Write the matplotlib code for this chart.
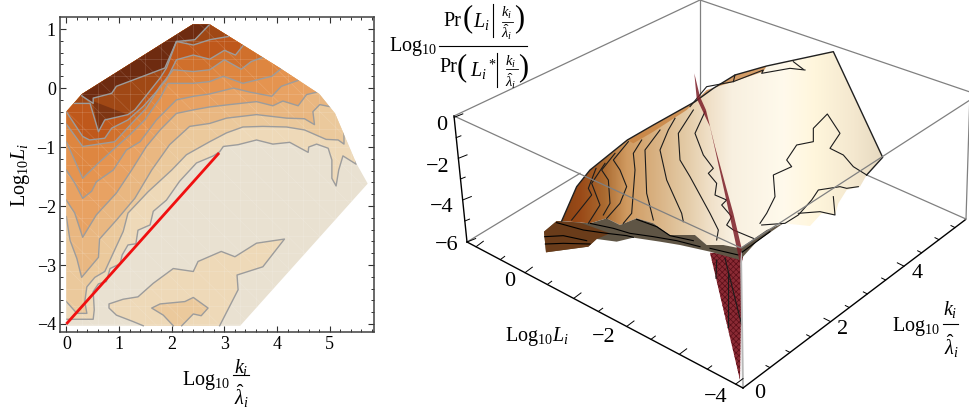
import numpy as np
import matplotlib
matplotlib.use("Agg")
import matplotlib.pyplot as plt
from matplotlib.colors import LinearSegmentedColormap
from matplotlib.patches import Polygon

plt.rcParams["font.family"] = ["Liberation Serif", "DejaVu Serif"]
plt.rcParams["mathtext.fontset"] = "custom"
plt.rcParams["mathtext.rm"] = "Liberation Serif"
plt.rcParams["mathtext.it"] = "Liberation Serif:italic"
plt.rcParams["mathtext.bf"] = "Liberation Serif:bold"
plt.rcParams["hatch.linewidth"] = 0.5

# =========================
# left panel: contour data (log k, log L)
# =========================
hull = [(0, -4.03), (0, -0.4), (0.3, -0.1), (2.4, 1.08), (2.72, 1.08), (3.35, 0.73), (4.05, 0.34),
        (4.8, -0.1), (5.1, -0.43), (5.5, -1.27), (5.72, -1.62), (3.3, -4.03)]

c_base = [(0, -3.92), (0.51, -3.92), (0.53, -3.76), (0.51, -3.45), (0.61, -3.32), (0.76, -3.28), (0.83, -3.06),
          (1.02, -2.98), (1.06, -2.83), (1.17, -2.66), (1.32, -2.64), (1.36, -2.41), (1.59, -2.32), (1.65, -2.09),
          (1.90, -1.90), (2.15, -1.58), (2.47, -1.27), (2.79, -1.15), (2.91, -1.08), (2.98, -0.99), (3.26, -0.96),
          (3.61, -0.88), (3.92, -0.95), (4.24, -0.92), (4.59, -1.09), (4.60, -1.0), (4.75, -0.95), (4.97, -1.02),
          (5.04, -1.22), (5.04, -1.53), (5.12, -1.66), (5.17, -1.39), (5.25, -1.15), (5.50, -1.29), (5.50, -1.16)]
c_a = [(0, -3.62), (0.20, -3.82), (0.39, -3.82), (0.35, -3.62), (0.39, -3.37), (0.54, -3.21), (0.73, -3.11),
       (0.92, -2.74), (1.08, -2.43), (1.17, -2.12), (1.55, -1.76), (2.0, -1.39), (2.28, -1.13), (2.72, -0.91),
       (3.04, -0.76), (3.35, -0.66), (3.73, -0.65), (4.18, -0.66), (4.52, -0.71), (4.93, -0.87), (5.16, -0.88),
       (5.27, -0.95), (5.27, -0.72)]
c_b = [(0, -2.18), (0.07, -2.58), (0.2, -2.89), (0.29, -3.21), (0.61, -2.87), (0.63, -2.56), (0.95, -2.24),
       (1.3, -1.87), (1.62, -1.39), (1.96, -0.96), (2.34, -0.65), (2.72, -0.6), (3.04, -0.51), (3.61, -0.45),
       (4.18, -0.51), (4.52, -0.52), (4.71, -0.62), (4.68, -0.4), (4.81, -0.28), (5.03, -0.32)]
c_c = [(0, -1.9), (0.16, -2.12), (0.31, -2.53), (0.57, -2.15), (0.95, -1.78), (1.24, -1.39), (1.52, -0.99),
       (1.78, -0.71), (2.09, -0.43), (2.41, -0.37), (2.72, -0.32), (3.1, -0.28), (3.61, -0.23), (3.92, -0.3),
       (4.11, -0.22), (4.4, -0.3), (4.56, -0.11), (4.75, -0.07)]
c_d = [(0, -1.39), (0.16, -1.61), (0.31, -1.87), (0.48, -1.75), (0.57, -1.59), (0.89, -1.39), (1.14, -1.05),
       (1.4, -0.91), (1.71, -0.54), (2.09, -0.2), (2.41, -0.14), (2.72, -0.1), (3.17, 0.0), (3.49, -0.07),
       (3.9, -0.14), (4.08, 0.03), (4.4, 0.13)]
c_e = [(0, -0.91), (0.31, -1.53), (0.61, -1.27), (0.92, -1.02), (1.21, -0.79), (1.49, -0.54), (1.78, -0.17),
       (1.93, 0.08), (2.09, 0.08), (2.41, 0.08), (2.72, 0.11), (2.98, 0.2), (3.35, 0.08), (3.9, 0.2), (4.08, 0.33)]
c_f = [(0, -0.61), (0.31, -0.99), (0.61, -0.95), (0.92, -0.91), (1.24, -0.6), (1.52, -0.34), (1.78, 0.03),
       (2.03, 0.31), (2.41, 0.28), (2.72, 0.31), (3.0, 0.48), (3.32, 0.32), (3.51, 0.45), (3.73, 0.52)]
c_g = [(0, -0.4), (0.31, -0.82), (0.44, -0.88), (0.73, -0.85), (0.86, -0.68), (1.17, -0.54), (1.46, -0.31),
       (1.71, -0.06), (1.9, 0.14), (2.09, 0.48), (2.41, 0.56), (2.72, 0.49), (3.0, 0.64), (3.21, 0.56), (3.38, 0.75)]
c_h = [(0.13, -0.26), (0.45, -0.26), (0.61, -0.74), (0.73, -0.54), (1.17, -0.45), (1.3, -0.37), (1.78, 0.17),
       (1.9, 0.34), (2.09, 0.79), (2.41, 0.73), (2.72, 0.82), (3.11, 0.88)]
c_i = [(0.29, -0.13), (0.51, -0.26), (0.51, -0.17), (0.86, -0.09), (0.95, 0.03), (1.87, 0.34), (2.09, 0.79),
       (2.44, 0.82), (2.72, 1.08)]
pocket = [(0.5, -0.22), (0.61, -0.74), (0.73, -0.54), (1.17, -0.45)]
island_1 = [(1.46, -4.03), (1.27, -3.96), (0.95, -3.85), (0.81, -3.73), (0.81, -3.66), (1.08, -3.58), (1.36, -3.54),
            (1.65, -3.31), (2.03, -3.06), (2.41, -3.11), (2.50, -2.94), (2.94, -2.77), (3.20, -2.86), (3.61, -2.63),
            (4.14, -2.56), (3.73, -3.03), (3.24, -3.17), (3.26, -3.42), (2.91, -4.03)]
island_2 = [(2.03, -4.03), (1.84, -3.85), (1.62, -3.73), (1.78, -3.66), (2.25, -3.62), (2.41, -3.55), (2.69, -3.73),
            (2.56, -3.86), (2.41, -3.83), (2.19, -4.03)]
red_k = [0, 2.9]
red_L = [-4, -1.1]

levels = [c_base, c_a, c_b, c_c, c_d, c_e, c_f, c_g, c_h, c_i]
level_colors = ["#eed9b8", "#ebc99c", "#e9b781", "#e8a263", "#e59450", "#de8640", "#d0702c", "#bf581b", "#a04815", "#6e2b10"]

# =========================
# right panel: surface (3x pixel units)
# =========================
box_top = [(1362, 348), (2100, 0), (2910, 276)]
box_front_top = [(1362, 348), (2223, 744), (2910, 300)]
box_back_left = [(1401, 726), (1740, 520)]
box_back_right = [(2898, 657), (2600, 525)]
box_v_back = [(2100, 0), (2100, 300)]
box_v_right = [(2910, 276), (2898, 657)]
box_v_front = [(2223, 760), (2229, 1164)]
edge_z = [(1362, 348), (1401, 726)]
edge_L = [(1401, 726), (2229, 1164)]
edge_k = [(2229, 1164), (2895, 660)]

ticks_z_y = [352, 413, 475, 537, 600, 663, 726]
ticks_L_x = [1428, 1501, 1575, 1642, 1721, 1795, 1880, 1953, 2038, 2122, 2207]
ticks_k_x = [2310, 2370, 2432, 2492, 2548, 2602, 2657, 2712, 2765, 2817, 2865]

surface = [(1685, 663), (1730, 560), (1770, 510), (1882, 420), (1960, 375), (2085, 305), (2140, 265), (2205, 225),
           (2300, 198), (2500, 155), (2648, 472), (2600, 525), (2580, 560), (2540, 570), (2515, 610), (2505, 645),
           (2465, 640), (2430, 678), (2350, 670), (2300, 690), (2220, 745), (2170, 735), (2120, 735), (2085, 705),
           (2010, 705), (1960, 670), (1910, 655), (1860, 675), (1820, 655), (1770, 670)]
skirt = [(1632, 695), (1670, 663), (1770, 670), (1820, 655), (1860, 675), (1910, 655), (1960, 670), (2010, 705),
         (2085, 705), (2120, 735), (2170, 735), (2220, 745), (2300, 690), (2350, 670), (2270, 725), (2220, 780),
         (2130, 755), (2040, 735), (1980, 725), (1900, 713), (1850, 725), (1790, 717), (1765, 740), (1638, 757)]
skirt_end = [(1632, 695), (1670, 663), (1740, 668), (1830, 700), (1790, 717), (1765, 740), (1638, 757)]
ridge = [(1882, 420), (1960, 375), (2085, 305), (2140, 265), (2205, 225), (2300, 198), (2290, 215), (2200, 245),
         (2120, 270), (2060, 330), (1960, 395), (1900, 430)]
plane_top = [(2083, 220), (2100, 290), (2118, 330), (2145, 440), (2175, 550), (2200, 640), (2225, 745), (2220, 790),
             (2205, 720), (2170, 560), (2130, 380), (2090, 295)]
plane_low = [(2130, 758), (2230, 765), (2225, 790), (2220, 1140)]

surface_lines = [
    [(1715, 660), (1775, 585), (1765, 565), (1788, 505)],
    [(1765, 670), (1800, 615), (1775, 550), (1815, 490)],
    [(1810, 645), (1830, 610), (1825, 540), (1805, 510), (1845, 460)],
    [(1820, 655), (1860, 610), (1880, 560), (1860, 510), (1840, 480), (1885, 425)],
    [(1870, 670), (1895, 640), (1905, 510), (1900, 460), (1925, 420)],
    [(1960, 660), (1940, 580), (1935, 450), (1980, 390)],
    [(2050, 665), (2045, 640), (2000, 540), (1980, 450), (2005, 390), (2025, 355)],
    [(2080, 330), (2035, 400), (2040, 480), (2070, 530), (2100, 585), (2130, 640), (2155, 690), (2150, 720)],
    [(2115, 335), (2085, 400), (2110, 465), (2140, 505), (2125, 520), (2150, 550), (2145, 585), (2180, 600),
     (2165, 615), (2195, 650), (2180, 675), (2200, 690), (2260, 715)],
    [(2070, 320), (2120, 260), (2200, 245), (2205, 225)],
    [(2200, 245), (2290, 210), (2285, 220), (2370, 205), (2415, 210)],
    [(2380, 185), (2410, 208)],
    [(2280, 670), (2300, 640), (2325, 590), (2320, 525), (2375, 500), (2360, 480), (2390, 435), (2440, 425),
     (2440, 385), (2482, 342), (2520, 400), (2490, 445), (2530, 465), (2560, 500), (2600, 525)],
    [(2575, 560), (2540, 565), (2520, 560), (2455, 570), (2435, 600), (2395, 645), (2355, 670), (2285, 675)],
    [(2395, 640), (2460, 635), (2505, 645), (2500, 590)],
]
skirt_lines = [
    [(1634, 710), (1690, 707), (1760, 722)],
    [(1636, 732), (1690, 730), (1770, 732)],
    [(1670, 668), (1750, 690), (1820, 700), (1880, 707), (1900, 712)],
    [(1770, 670), (1840, 685), (1890, 700), (1960, 710), (2030, 722), (2100, 740)],
    [(1910, 658), (1970, 680), (2010, 707), (2080, 722)],
    [(2130, 745), (2215, 765), (2310, 695)],
]
plane_lines = [
    [(2175, 775), (2225, 975)],
    [(2150, 780), (2148, 835)],
    [(2185, 820), (2185, 980)],
]


def close_level(line):
    return line + [(7, line[-1][1]), (7, 3), (-1, 3), (-1, line[0][1])]


def put(px, py, s, size, **kw):
    # px, py are plain picture pixels
    scene.text(px * 3, py * 3, s, fontsize=size, ha="center", va="center", **kw)


def bar(x0, x1, py, lw=0.8):
    scene.plot([x0 * 3, x1 * 3], [py * 3, py * 3], color="black", lw=lw, zorder=9)


fig = plt.figure(figsize=(9.7, 4.17), dpi=100)

# =========================
# right panel
# =========================
scene = fig.add_axes([0, 0, 1, 1])
scene.axis("off")

grey = "#808080"
for seg in [box_back_left, box_back_right, box_v_back, box_v_right]:
    x, y = zip(*seg)
    scene.plot(x, y, color=grey, lw=0.9, zorder=1)

# surface, shaded across the screen
stops = [(0.0, "#8a4314"), (0.057, "#9a4a18"), (0.13, "#aa6a30"), (0.20, "#d09a60"), (0.285, "#d8b080"),
         (0.39, "#e4cca8"), (0.46, "#f0e0c8"), (0.53, "#f8f0e0"), (0.69, "#fffaec"), (0.79, "#fff6dc"),
         (0.91, "#f4e8cf"), (1.0, "#e6d9c0")]
shade = LinearSegmentedColormap.from_list("surf", stops)
ramp = np.linspace(0, 1, 256).reshape(1, -1)
img = scene.imshow(ramp, cmap=shade, extent=(1685, 2648, 760, 150), aspect="auto", zorder=2)
clip = Polygon(surface, closed=True, transform=scene.transData)
img.set_clip_path(clip)
scene.set_xlim(0, 2910)
scene.set_ylim(1251, 0)
scene.add_patch(Polygon(ridge, closed=True, fc="#c77f3c", ec="none", alpha=0.75, zorder=3))

scene.add_patch(Polygon(skirt, closed=True, fc="#5f5545", ec="none", zorder=3))
scene.add_patch(Polygon(skirt_end, closed=True, fc="#6a3c1a", ec="none", zorder=3))
for seg in skirt_lines:
    x, y = zip(*seg)
    scene.plot(x, y, color="black", lw=0.8, zorder=4)

outline_top = surface[:12]
x, y = zip(*outline_top)
scene.plot(x, y, color="#202020", lw=1.0, zorder=5)
for seg in surface_lines:
    x, y = zip(*seg)
    scene.plot(x, y, color="#1c1c1c", lw=0.8, zorder=5)

scene.add_patch(Polygon(plane_top, closed=True, fc="#7c1e28", ec="none", alpha=0.85, zorder=6))
scene.add_patch(Polygon(plane_low, closed=True, fc="#8a2a34", ec="#5a0f18", lw=0, hatch="xxxxxx", zorder=2))
for seg in plane_lines:
    x, y = zip(*seg)
    scene.plot(x, y, color="#1c1c1c", lw=0.8, zorder=3)

# box edges in front of the surface
x, y = zip(*box_top)
scene.plot(x, y, color=grey, lw=0.9, zorder=1)
x, y = zip(*box_front_top)
scene.plot(x, y, color=grey, lw=0.9, zorder=7)
x, y = zip(*box_v_front)
scene.plot(x, y, color="#b8b8b8", lw=1.4, zorder=4)
for seg in [edge_z, edge_L, edge_k]:
    x, y = zip(*seg)
    scene.plot(x, y, color="black", lw=1.0, zorder=8)

# ticks on the three drawn edges
ez = np.array(edge_z, float)
eL = np.array(edge_L, float)
ek = np.array(edge_k, float)
for i, ty in enumerate(ticks_z_y):
    tx = np.interp(ty, ez[:, 1], ez[:, 0])
    s = 26 if i % 2 == 0 else 14
    scene.plot([tx, tx + s], [ty, ty - s * 0.4], color="black", lw=0.7, zorder=8)
for i, tx in enumerate(ticks_L_x):
    ty = np.interp(tx, eL[:, 0], eL[:, 1])
    s = 22 if i % 2 == 0 else 13
    scene.plot([tx, tx + s], [ty, ty - s * 0.75], color="black", lw=0.7, zorder=8)
for i, tx in enumerate(ticks_k_x):
    ty = np.interp(tx, ek[:, 0], ek[:, 1])
    s = 20 if i % 4 == 3 else 12
    scene.plot([tx, tx - s], [ty, ty - s * 0.5], color="black", lw=0.7, zorder=8)

# 3D labels
for s, px, py in [("0", 442, 126), ("\u22122", 438, 167), ("\u22124", 442, 207), ("\u22126", 447, 245),
                  ("0", 510, 281), ("\u22122", 604, 337), ("\u22124", 716, 397),
                  ("0", 760, 393), ("2", 843, 330), ("4", 917, 273)]:
    put(px, py, s, 16)

put(537, 337, r"$\mathrm{Log}_{10}L_i$", 14.5)
put(916, 326, r"$\mathrm{Log}_{10}$", 14.5)
put(950, 309, r"$k_i$", 14.5)
bar(943, 958, 324)
put(951, 346, r"$\hat{\lambda}_i$", 14.5)

put(413, 46, r"$\mathrm{Log}_{10}$", 14.5)
bar(439, 527, 46)
put(452, 21, "Pr", 14.5)
put(468, 19, "(", 22, fontweight="light")
put(481, 22, r"$L_i$", 14.5)
bar(493, 493, 4)
scene.plot([493 * 3, 493 * 3], [4 * 3, 37 * 3], color="black", lw=0.8, zorder=9)
put(507, 13, r"$k_i$", 10.5)
bar(502, 513, 22, lw=0.6)
put(507, 32, r"$\hat{\lambda}_i$", 10.5)
put(519, 19, ")", 22)
put(448, 68, "Pr", 14.5)
put(462, 68, "(", 22)
put(483, 70, r"$L_i{}^*$", 14.5)
scene.plot([497 * 3, 497 * 3], [53 * 3, 87 * 3], color="black", lw=0.8, zorder=9)
put(511, 62, r"$k_i$", 10.5)
bar(506, 518, 69, lw=0.6)
put(511, 81, r"$\hat{\lambda}_i$", 10.5)
put(523, 68, ")", 22)

# =========================
# left panel
# =========================
ax = fig.add_axes([60 / 970, 1 - 332 / 417, 313.5 / 970, 314.7 / 417])
ax.set_xlim(-0.12, 5.83)
ax.set_ylim(-4.136, 1.2)

hull_patch = Polygon(hull, closed=True, fc="#e9e1d1", ec="none", zorder=1)
ax.add_patch(hull_patch)

for line, col in zip(levels, level_colors):
    p = Polygon(close_level(line), closed=True, fc=col, ec="none", zorder=2)
    ax.add_patch(p)
    p.set_clip_path(hull_patch)
p = Polygon(pocket, closed=True, fc="#7e3512", ec="none", zorder=2)
ax.add_patch(p)
p = Polygon(island_1, closed=True, fc=level_colors[0], ec="none", zorder=2)
ax.add_patch(p)
p = Polygon(island_2, closed=True, fc=level_colors[1], ec="none", zorder=2)
ax.add_patch(p)

# faint mesh of the triangulation
for v in np.arange(0, 6, 0.3):
    ln, = ax.plot([v, v], [-5, 2], color="white", lw=0.6, alpha=0.14, zorder=3)
    ln.set_clip_path(hull_patch)
for v in np.arange(-4, 1.2, 0.3):
    ln, = ax.plot([-1, 7], [v, v], color="white", lw=0.6, alpha=0.14, zorder=3)
    ln.set_clip_path(hull_patch)
for v in np.arange(-6, 6, 0.6):
    ln, = ax.plot([v, v + 6], [1.2, -4.1], color="white", lw=0.5, alpha=0.14, zorder=3)
    ln.set_clip_path(hull_patch)

for line in levels:
    x, y = zip(*line)
    ln, = ax.plot(x, y, color="#9c9c9c", lw=1.0, zorder=4)
    ln.set_clip_path(hull_patch)
for line in [island_1, island_2]:
    x, y = zip(*line)
    ax.plot(x, y, color="#9c9c9c", lw=1.0, zorder=4)

ax.plot(red_k, red_L, color="#f01010", lw=2.0, zorder=5, solid_capstyle="butt")

ax.set_xticks([0, 1, 2, 3, 4, 5])
ax.set_yticks([-4, -3, -2, -1, 0, 1])
ax.set_xticklabels(["0", "1", "2", "3", "4", "5"])
ax.set_yticklabels(["\u22124", "\u22123", "\u22122", "\u22121", "0", "1"])
ax.set_xticks(np.arange(0, 5.9, 0.2), minor=True)
ax.set_yticks(np.arange(-4, 1.2, 0.2), minor=True)
ax.tick_params(which="major", direction="in", top=True, right=True, length=4.5, width=0.8, color="#303030",
               labelsize=13, pad=3)
ax.tick_params(which="minor", direction="in", top=True, right=True, length=2.2, width=0.7, color="#303030")
for sp in ax.spines.values():
    sp.set_linewidth(1.1)
    sp.set_color("#404040")

put(206, 381, r"$\mathrm{Log}_{10}$", 14.5)
put(241, 368, r"$k_i$", 14.5)
bar(233, 249, 375)
put(241, 396, r"$\hat{\lambda}_i$", 14.5)
put(20, 175, r"$\mathrm{Log}_{10}L_i$", 14.5, rotation=90)

fig.savefig("out.png", dpi=100)
